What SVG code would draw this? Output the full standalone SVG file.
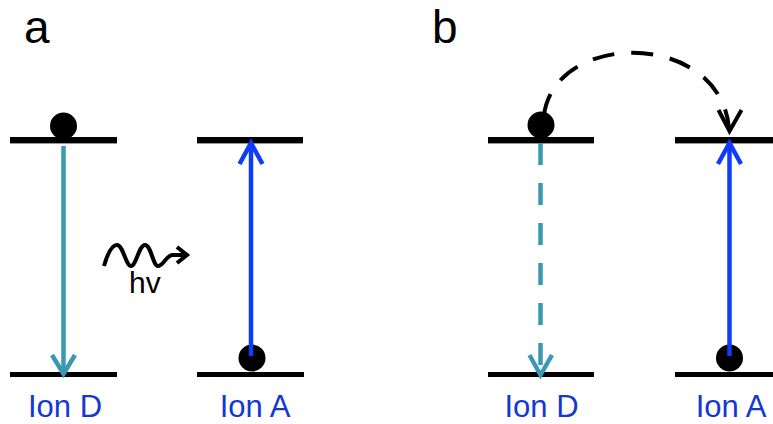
<svg xmlns="http://www.w3.org/2000/svg" width="773" height="424" viewBox="0 0 773 424">
<style>
.lvl{stroke:#000;stroke-width:6;fill:none}
.sh{stroke:#555;stroke-width:2;fill:none;opacity:0.6}
.base{stroke:#000;stroke-width:5;fill:none}
.teal{stroke:#3a99b1;stroke-width:4.5;fill:none;stroke-linecap:butt}
.blue{stroke:#0f3cf7;stroke-width:4.5;fill:none}
.blk{stroke:#000;stroke-width:4;fill:none}
.lab{font-family:"Liberation Sans",Arial,sans-serif;font-size:31px;fill:#1438d2;text-anchor:middle}
.let{font-family:"Liberation Sans",Arial,sans-serif;font-size:46px;fill:#000}
.ball{fill:#000}
</style>
<rect width="773" height="424" fill="#fff"/>
<text class="let" x="24" y="43">a</text>
<text class="let" x="432" y="43">b</text>

<g id="ionD-a">
<line class="sh" x1="10" y1="143" x2="117" y2="143"/>
<line class="lvl" x1="10" y1="140" x2="117" y2="140"/>
<line class="base" x1="10" y1="374.5" x2="117" y2="374.5"/>
<circle class="ball" cx="63.5" cy="126" r="13.5"/>
<text class="lab" x="65" y="417">Ion D</text>
</g>

<g id="ionA-a">
<line class="sh" x1="197" y1="143" x2="303" y2="143"/>
<line class="lvl" x1="197" y1="140" x2="303" y2="140"/>
<line class="base" x1="197" y1="374.5" x2="304" y2="374.5"/>
<circle class="ball" cx="252" cy="358" r="13.5"/>
<text class="lab" x="255" y="417">Ion A</text>
</g>

<g id="photon">
<path class="blk" stroke-width="3.8" d="M104,266 C108,252 112,245 117,245 C123,245 126,266 131,266 C136,266 139,245 145,245 C151,245 153,266 158,266 C163,266 166,256 172,255 L186,255"/>
<path class="blk" stroke-width="3.8" d="M177,247 L187,255 L177,263"/>
<text font-family="Liberation Sans,Arial,sans-serif" font-size="30" x="129" y="293" fill="#000">hv</text>
</g>

<g id="ionD-b">
<line class="sh" x1="488" y1="143" x2="594" y2="143"/>
<line class="lvl" x1="488" y1="140" x2="594" y2="140"/>
<line class="base" x1="488" y1="374.5" x2="594" y2="374.5"/>
<circle class="ball" cx="541" cy="125" r="13.5"/>
<text class="lab" x="541.5" y="417">Ion D</text>
</g>

<g id="ionA-b">
<line class="sh" x1="675" y1="143" x2="773" y2="143"/>
<line class="lvl" x1="675" y1="140" x2="773" y2="140"/>
<line class="base" x1="675" y1="374.5" x2="773" y2="374.5"/>
<circle class="ball" cx="729.5" cy="358" r="13.5"/>
<text class="lab" x="731" y="417">Ion A</text>
</g>

<g id="connectors">
<line class="teal" x1="63.5" y1="146" x2="63.5" y2="373"/>
<path class="teal" d="M52,355 L63.5,374 L75,355"/>
<line class="blue" x1="251" y1="356" x2="251" y2="144"/>
<path class="blue" d="M239.5,164 L251,143 L262.5,164"/>
<line class="teal" x1="540.5" y1="143" x2="540.5" y2="373" stroke-dasharray="22 18"/>
<path class="teal" d="M529.5,355 L540.5,375 L552,355"/>
<line class="blue" x1="729.5" y1="356" x2="729.5" y2="144"/>
<path class="blue" d="M718,164 L729.5,143 L741,164"/>
<path class="blk" stroke-width="4.5" d="M544,115 C555,30 720,30 729,128" stroke-dasharray="22 17"/>
<path class="blk" stroke-width="4.5" d="M718.5,110 L729.5,131 L741.5,110"/>
</g>
</svg>
